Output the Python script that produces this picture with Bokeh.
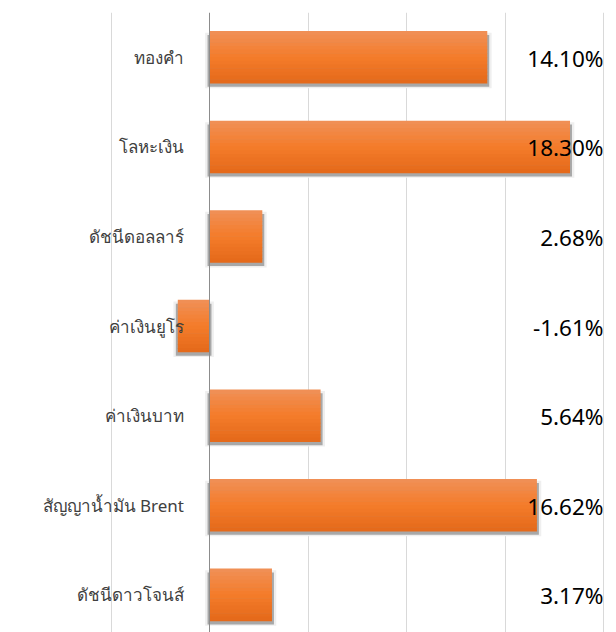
from bokeh.plotting import figure
from bokeh.models import ColumnDataSource, Range1d, FixedTicker, Span
from bokeh.core.properties import value
from bokeh.embed import file_html
from bokeh.resources import INLINE

categories = ["ทองคำ", "โลหะเงิน", "ดัชนีดอลลาร์", "ค่าเงินยูโร", "ค่าเงินบาท",
              "สัญญาน้ำมัน Brent", "ดัชนีดาวโจนส์"]
values = [14.10, 18.30, 2.68, -1.61, 5.64, 16.62, 3.17]
value_labels = ["14.10%", "18.30%", "2.68%", "-1.61%", "5.64%", "16.62%", "3.17%"]
grid_ticks = [-5, 5, 10, 15, 20]

pos = list(range(len(categories)))
BAR_H = 0.58

p = figure(width=616, height=632, x_range=Range1d(-10.61, 20.66),
           y_range=Range1d(6.42, -0.5), output_backend="svg",
           toolbar_location=None, min_border_left=0, min_border_right=0,
           min_border_top=12, min_border_bottom=0)
p.outline_line_color = None
p.xaxis.visible = False
p.yaxis.visible = False
p.ygrid.visible = False
p.xgrid.ticker = FixedTicker(ticks=grid_ticks)
p.xgrid.grid_line_color = "#D9D9D9"
p.xgrid.grid_line_width = 1
p.add_layout(Span(location=0, dimension="height", line_color="#8C8C8C", line_width=1))

# shadows
outer = ColumnDataSource(dict(
    y=[y + 0.035 for y in pos],
    left=[min(0, v) - 0.22 for v in values],
    right=[max(0, v) + 0.22 for v in values]))
p.hbar(y="y", left="left", right="right", height=BAR_H + 0.04, source=outer,
       fill_color="#EFEFEF", line_color=None)
inner = ColumnDataSource(dict(
    y=[y + 0.04 for y in pos],
    left=[min(0, v) - 0.1 for v in values],
    right=[max(0, v) + 0.1 for v in values]))
p.hbar(y="y", left="left", right="right", height=BAR_H, source=inner,
       fill_color="#A8A8A8", line_color=None)

# gradient bars drawn as strips
def lerp(c1, c2, t):
    a = [int(c1[i:i + 2], 16) for i in (1, 3, 5)]
    b = [int(c2[i:i + 2], 16) for i in (1, 3, 5)]
    return "#%02x%02x%02x" % tuple(round(a[k] + (b[k] - a[k]) * t) for k in range(3))

N = 14
top_c, mid_c, bot_c = "#F09058", "#F47C2A", "#E4691A"
ys, ls, rs, cs = [], [], [], []
for i, v in enumerate(values):
    for k in range(N):
        t = (k + 0.5) / N
        c = lerp(top_c, mid_c, t * 2) if t < 0.5 else lerp(mid_c, bot_c, (t - 0.5) * 2)
        ys.append(pos[i] - BAR_H / 2 + (k + 0.5) * BAR_H / N)
        ls.append(min(0, v))
        rs.append(max(0, v))
        cs.append(c)
strips = ColumnDataSource(dict(y=ys, left=ls, right=rs, color=cs))
p.hbar(y="y", left="left", right="right", height=BAR_H / N * 1.15, source=strips,
       fill_color="color", line_color=None)

# category labels
lab = ColumnDataSource(dict(y=pos, text=categories, x=[-1.3] * len(pos)))
p.text(x="x", y="y", text="text", source=lab, text_align="right",
       text_baseline="middle", text_font=value("Noto Sans"),
       text_font_size="17px", text_color="#404040")

# value labels
vl = ColumnDataSource(dict(y=pos, text=value_labels, x=[20] * len(pos)))
p.text(x="x", y="y", text="text", source=vl, text_align="right",
       text_baseline="middle", text_font=value("Noto Sans"),
       text_font_size="22.5px", text_color="#000000", y_offset=1)

open("out.html", "w").write(file_html(p, INLINE))
